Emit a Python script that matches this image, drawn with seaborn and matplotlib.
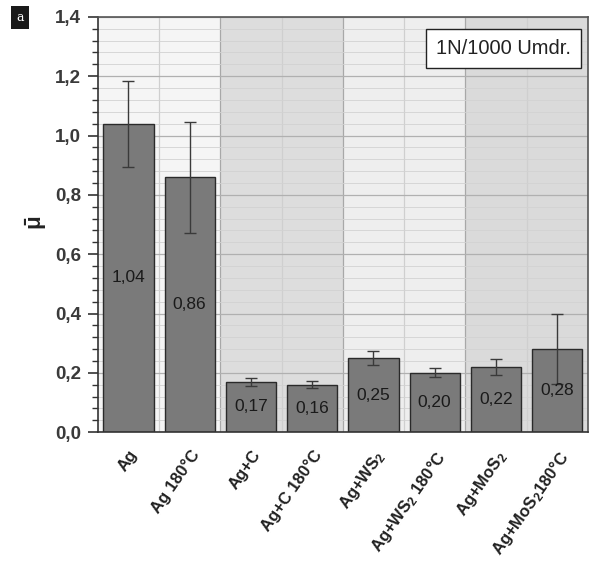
import numpy as np
import pandas as pd
import matplotlib
matplotlib.use('Agg')
import matplotlib.pyplot as plt
from matplotlib.ticker import MultipleLocator, FixedLocator
import seaborn as sns

# values
samples = ['Ag', 'Ag 180°C', 'Ag+C', 'Ag+C 180°C', 'Ag+WS$_2$',
           'Ag+WS$_2$ 180°C', 'Ag+MoS$_2$', 'Ag+MoS$_2$180°C']
mu = [1.04, 0.86, 0.17, 0.16, 0.25, 0.20, 0.22, 0.28]
err = [0.145, 0.187, 0.013, 0.011, 0.023, 0.015, 0.028, 0.118]
labels = ['1,04', '0,86', '0,17', '0,16', '0,25', '0,20', '0,22', '0,28']
band_colors = ['#f5f5f5', '#dddddd', '#eeeeee', '#dadada']

sns.set_style('white')
plt.rcParams['font.family'] = ['Liberation Sans', 'DejaVu Sans']
plt.rcParams['mathtext.fontset'] = 'custom'
plt.rcParams['mathtext.rm'] = 'Liberation Sans:bold'
plt.rcParams['mathtext.it'] = 'Liberation Sans:bold'

df = pd.DataFrame({'sample': samples, 'mu': mu})

fig = plt.figure(figsize=(5.89, 5.62), dpi=100)
ax = fig.add_axes([0.166, 0.231, 0.832, 0.739])

# shaded background bands, two categories each
for i, c in enumerate(band_colors):
    ax.axvspan(2 * i - 0.5, 2 * i + 1.5, color=c, zorder=0, lw=0)

# grid
ax.yaxis.set_major_locator(MultipleLocator(0.2))
ax.yaxis.set_minor_locator(MultipleLocator(0.04))
ax.grid(axis='y', which='major', color='#b0b0b0', lw=0.9, zorder=0.5)
ax.grid(axis='y', which='minor', color='#d2d2d2', lw=0.6, zorder=0.5)
for k in range(1, 8):
    ax.axvline(k - 0.5, color='#a8a8a8' if k % 2 == 0 else '#cfcfcf',
               lw=0.9, zorder=0.5)

sns.barplot(data=df, x='sample', y='mu', color='#7a7a7a', width=0.82,
            edgecolor='#2a2a2a', linewidth=1.0, saturation=1, ax=ax, zorder=2)
ax.errorbar(np.arange(len(mu)), mu, yerr=err, fmt='none', ecolor='#3a3a3a',
            elinewidth=1.0, capsize=4, capthick=1.0, zorder=3)

for i, (v, t) in enumerate(zip(mu, labels)):
    ax.text(i, v / 2, t, ha='center', va='center', fontsize=12.5,
            color='#1a1a1a', zorder=4)

ax.set_xlim(-0.5, 7.5)
ax.set_ylim(0, 1.4)
yt = np.arange(0, 1.41, 0.2)
ax.set_yticks(yt)
ax.set_yticklabels([f'{v:.1f}'.replace('.', ',') for v in yt],
                   fontsize=13.5, fontweight='bold', color='#3a3a3a')
ax.set_xticks(range(len(samples)))
ax.set_xticklabels(samples, rotation=55, ha='right', rotation_mode='anchor',
                   fontsize=12, fontweight='bold', color='#222222')
ax.xaxis.set_minor_locator(FixedLocator(np.arange(-0.5, 8, 1)))
ax.tick_params(axis='x', which='major', length=0, pad=11)
ax.tick_params(axis='x', which='minor', length=3, direction='in', color='#888888')
ax.tick_params(axis='y', which='major', length=7, width=1.2, left=True,
               direction='out', color='#333333', pad=5)
ax.tick_params(axis='y', which='minor', length=4, width=1.0, left=True,
               direction='out', color='#333333')

ax.set_xlabel('')
ax.set_ylabel(r'$\bar{\mu}$', fontsize=16, color='#222222')
ax.yaxis.set_label_coords(-0.100, 0.505, transform=ax.transAxes)

for s in ax.spines.values():
    s.set_color('#555555')
    s.set_linewidth(1.2)
ax.spines['left'].set_color('#333333')
ax.spines['bottom'].set_color('#333333')

ax.text(0.965, 0.924, '1N/1000 Umdr.', transform=ax.transAxes, ha='right',
        va='center', fontsize=14.5, color='#222222', zorder=5,
        bbox=dict(boxstyle='square,pad=0.5', fc='white', ec='#222222', lw=1.0))

fig.text(0.034, 0.968, 'a', ha='center', va='center', fontsize=9,
         color='white', family='DejaVu Serif',
         bbox=dict(boxstyle='square,pad=0.4', fc='#1a1a1a', ec='none'))

plt.savefig('out.png', dpi=100)
